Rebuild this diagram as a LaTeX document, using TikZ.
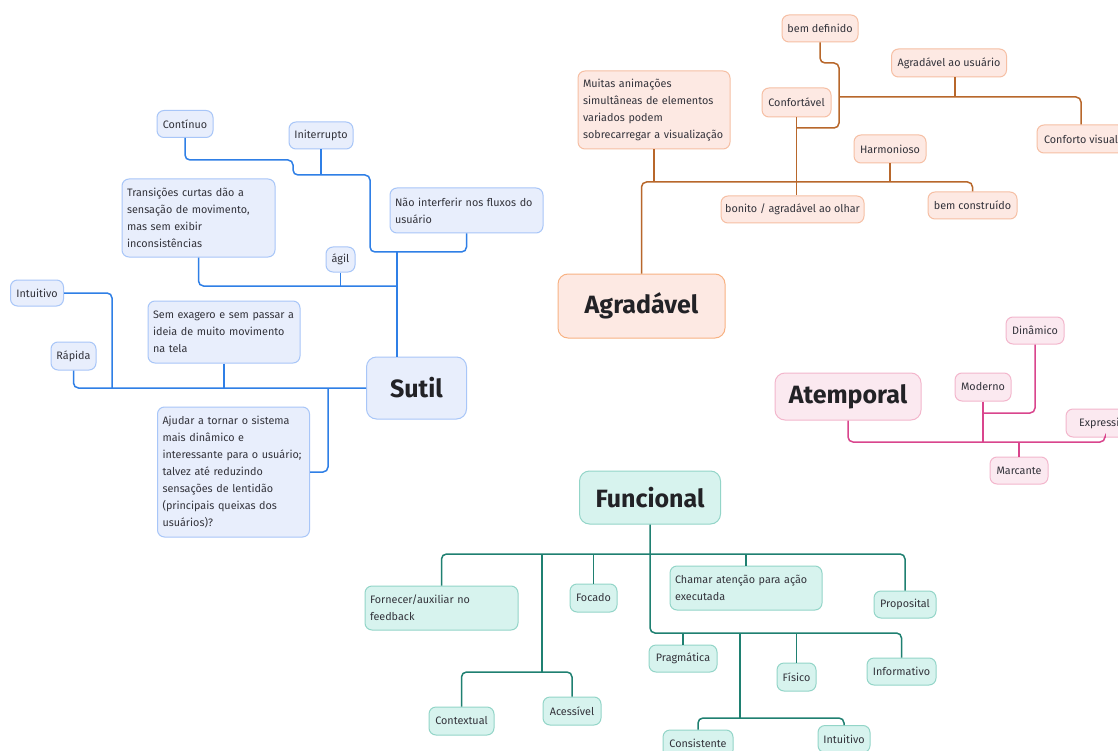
\documentclass[tikz,border=0pt]{standalone}
\usepackage{fontspec}
\setmainfont{Fira Sans}
\definecolor{bLine}{HTML}{2F7FE6}
\definecolor{bFill}{HTML}{E8EEFC}
\definecolor{bDraw}{HTML}{A8C6F8}
\definecolor{oLine}{HTML}{B8672B}
\definecolor{oFill}{HTML}{FDE9E3}
\definecolor{oDraw}{HTML}{F6BFA4}
\definecolor{pLine}{HTML}{D9458D}
\definecolor{pFill}{HTML}{FBE9F0}
\definecolor{pDraw}{HTML}{F3B6CC}
\definecolor{gLine}{HTML}{1F8071}
\definecolor{gFill}{HTML}{D7F3EE}
\definecolor{gDraw}{HTML}{93D5C8}
\definecolor{txt}{HTML}{33333B}
\definecolor{ttl}{HTML}{222226}
\tikzset{
  nbase/.style={rounded corners=7pt, line width=1pt, font=\fontsize{10.8}{17}\selectfont, text=txt, inner sep=0pt, align=center},
  sz/.style 2 args={minimum width=#1pt, minimum height=#2pt},
  multi/.style={align=left, inner sep=5pt, text width=#1pt-10pt},
  big/.style={font=\fontsize{25}{30}\selectfont\bfseries, text=ttl, rounded corners=10pt},
  bN/.style={nbase, draw=bDraw, fill=bFill},
  oN/.style={nbase, draw=oDraw, fill=oFill},
  pN/.style={nbase, draw=pDraw, fill=pFill},
  gN/.style={nbase, draw=gDraw, fill=gFill},
  link/.style={line width=1.5pt, rounded corners=5pt},
  bL/.style={link, draw=bLine},
  oL/.style={link, draw=oLine},
  pL/.style={link, draw=pLine},
  gL/.style={link, draw=gLine},
}
\begin{document}
\begin{tikzpicture}[x=1pt,y=-1pt]
\useasboundingbox (0,0) rectangle (1118,751);
\clip (0,0) rectangle (1118,751);
\fill[white] (0,0) rectangle (1118,751);

% ---------- blue: Sutil ----------
\node[bN, sz={56}{27}] (cont) at (185,124) {Contínuo};
\node[bN, sz={64}{27}] (inter) at (321,135.5) {Initerrupto};
\node[bN, sz={153}{78}, multi=153] (trans) at (198.5,218) {Transições curtas dão a\\sensação de movimento,\\mas sem exibir\\inconsistências};
\node[bN, sz={153}{45}, multi=153] (naoint) at (466.5,210.5) {Não interferir nos fluxos do\\usuário};
\node[bN, sz={29}{25}] (agil) at (340.5,259.5) {ágil};
\node[bN, sz={53}{26}] (intu1) at (37,293) {Intuitivo};
\node[bN, sz={152}{62}, multi=152] (semex) at (224,332) {Sem exagero e sem passar a\\ideia de muito movimento\\na tela};
\node[bN, sz={45}{28}] (rapida) at (73.5,356) {Rápida};
\node[bN, big, sz={100}{62}] (sutil) at (416.5,388) {Sutil};
\node[bN, sz={152}{130}, multi=152] (ajudar) at (233.5,472) {Ajudar a tornar o sistema\\mais dinâmico e\\interessante para o usuário;\\talvez até reduzindo\\sensações de lentidão\\(principais queixas dos\\usuários)?};

\draw[bL] (cont.south) |- (293,160) |- (370,175) |- (466.5,252) -- (naoint.south);
\draw[bL] (inter.south) -- (321,175);
\draw[bL] (397,252) -- (397,357);
\draw[bL] (trans.south) |- (397,286);
\draw[bL] (agil.south) -- (340.5,286);
\draw[bL] (rapida.south) |- (sutil.west);
\draw[bL] (intu1.east) -| (112,388);
\draw[bL] (semex.south) -- (224,388);
\draw[bL] (328,388) |- (ajudar.east);

% ---------- orange: Agradável ----------
\node[oN, sz={76}{27}] (bemdef) at (820,28.5) {bem definido};
\node[oN, sz={115}{28}] (agrus) at (949,63) {Agradável ao usuário};
\node[oN, sz={152}{78}, multi=152] (muitas) at (654,110) {Muitas animações\\simultâneas de elementos\\variados podem\\sobrecarregar a visualização};
\node[oN, sz={69}{29}] (conf) at (796.5,102.5) {Confortável};
\node[oN, sz={88}{28}] (confvis) at (1081,139) {Conforto visual};
\node[oN, sz={72}{28}] (harm) at (890,149) {Harmonioso};
\node[oN, sz={143}{27}] (bonito) at (792.5,209.5) {bonito / agradável ao olhar};
\node[oN, sz={89}{27}] (bemcons) at (972.5,205.5) {bem construído};
\node[oN, big, draw=oDraw!80!orange, sz={167}{64}] (agrad) at (641.5,306) {Agradável};

\draw[oL] (bemdef.south) |- (839,63) |- (796.5,128);
\draw[oL] (conf.south) -- (bonito.north -| conf.south);
\draw[oL] (839,97) -| (confvis.north);
\draw[oL] (agrus.south -| 955,0) -- (955,97);
\draw[oL] (agrad.north) |- (972.5,182) -- (bemcons.north);
\draw[oL] (muitas.south) -- (654,182);
\draw[oL] (harm.south) -- (890,182);

% ---------- pink: Atemporal ----------
\node[pN, sz={58}{27}] (din) at (1035,330.5) {Dinâmico};
\node[pN, sz={56}{28}] (mod) at (983,387) {Moderno};
\node[pN, big, sz={146}{47}] (atemp) at (848,396.5) {Atemporal};
\node[pN, sz={78}{28}] (expr) at (1105,423) {Expressivo};
\node[pN, sz={58}{27}] (marc) at (1019,470.5) {Marcante};

\draw[pL] (atemp.south) |- (1105,442) -- (expr.south);
\draw[pL] (mod.south) -- (983,442);
\draw[pL] (din.south) |- (983,413);
\draw[pL] (marc.north) -- (1019,442);

% ---------- green: Funcional ----------
\node[gN, big, sz={141}{53}] (func) at (650,497.5) {Funcional};
\node[gN, sz={153}{44}, multi=153] (forn) at (441.5,608) {Fornecer/auxiliar no\\feedback};
\node[gN, sz={47}{28}] (focado) at (593.5,598) {Focado};
\node[gN, sz={152}{44}, multi=152] (chamar) at (746,588) {Chamar atenção para ação\\executada};
\node[gN, sz={62}{27}] (prop) at (905,604.5) {Proposital};
\node[gN, sz={68}{27}] (prag) at (683,658.5) {Pragmática};
\node[gN, sz={39}{28}] (fisico) at (796.5,677) {Físico};
\node[gN, sz={69}{27}] (inform) at (901.5,671.5) {Informativo};
\node[gN, sz={65}{28}] (context) at (461.5,721) {Contextual};
\node[gN, sz={58}{28}] (acess) at (572,711) {Acessível};
\node[gN, sz={70}{27}] (consist) at (698,743.5) {Consistente};
\node[gN, sz={52}{27}] (intu2) at (844,739) {Intuitivo};

\draw[gL] (func.south) |- (901.5,633) -- (inform.north);
\draw[gL] (forn.north) |- (905,554) -- (prop.north);
\draw[gL] (focado.north) -- (593.5,554);
\draw[gL] (chamar.north) -- (746,554);
\draw[gL] (542,554) -- (542,672);
\draw[gL] (context.north) |- (572,672) -- (acess.north);
\draw[gL] (prag.north) -- (683,633);
\draw[gL] (fisico.north) -- (796.5,633);
\draw[gL] (740,633) -- (740,718);
\draw[gL] (consist.north) |- (844,718) -- (intu2.north);
\end{tikzpicture}
\end{document}
